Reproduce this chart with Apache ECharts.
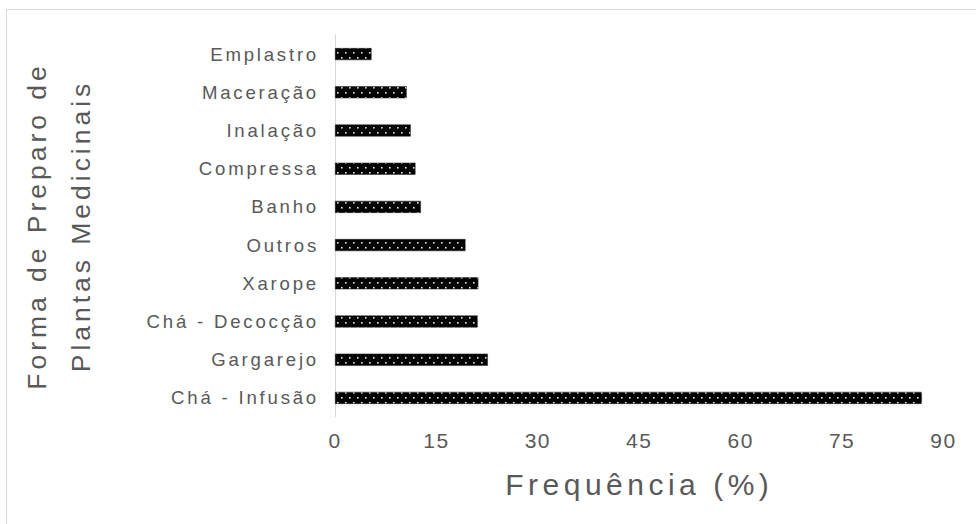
<!DOCTYPE html>
<html>
<head>
<meta charset="utf-8">
<script src="https://cdn.jsdelivr.net/npm/echarts@6/dist/echarts.min.js"></script>
<style>
  html, body { margin: 0; padding: 0; background: #fff; }
  #chart { width: 976px; height: 524px; }
  /* wide, airy lettering for all chart text; tick numbers a little tighter */
  #chart svg text { letter-spacing: 0.15em; }
  #chart svg text[style*="Arial"] { letter-spacing: 0.07em; }
</style>
</head>
<body>
<div id="chart"></div>
<script>
// Preparation methods, listed bottom to top as drawn on the category axis
const categories = [
  'Chá - Infusão', 'Gargarejo', 'Chá - Decocção', 'Xarope', 'Outros',
  'Banho', 'Compressa', 'Inalação', 'Maceração', 'Emplastro'
];
// Frequency (%) for each method
const frequencies = [86.8, 22.6, 21.1, 21.2, 19.3, 12.7, 11.9, 11.2, 10.6, 5.4];
// Value axis ticks
const xTicks = [0, 15, 30, 45, 60, 75, 90];

// Dotted fill: black with a staggered grid of small white dots
function dotPattern() {
  const c = document.createElement('canvas');
  c.width = 8; c.height = 10;
  const g = c.getContext('2d');
  g.fillStyle = '#000';
  g.fillRect(0, 0, 8, 10);
  g.fillStyle = '#e8e8e8';
  g.fillRect(1, 2, 1.6, 1.6);
  g.fillRect(5, 7, 1.6, 1.6);
  return c;
}

const chart = echarts.init(document.getElementById('chart'), null, { renderer: 'svg' });
const font = 'Liberation Sans, sans-serif';
const tickFont = 'Arial, Liberation Sans, sans-serif';

chart.setOption({
  animation: false,
  backgroundColor: '#fff',
  grid: { left: 335, right: 32.5, top: 35, bottom: 107, containLabel: false },
  graphic: [{
    type: 'polyline',
    shape: { points: [[6.5, 524], [6.5, 9.5], [976, 9.5]] },
    style: { stroke: '#d9d9d9', lineWidth: 1, fill: null },
    silent: true
  }],
  xAxis: {
    type: 'value',
    min: xTicks[0],
    max: xTicks[xTicks.length - 1],
    interval: xTicks[1] - xTicks[0],
    axisLine: { show: false },
    axisTick: { show: false },
    splitLine: { show: false },
    axisLabel: { color: '#595959', fontSize: 21, fontFamily: tickFont, margin: 13 },
    name: 'Frequência (%)',
    nameLocation: 'middle',
    nameGap: 52,
    nameTextStyle: { color: '#595959', fontSize: 30, fontFamily: font }
  },
  yAxis: {
    type: 'category',
    data: categories,
    axisLine: { show: true, lineStyle: { color: '#d9d9d9', width: 1 } },
    axisTick: { show: false },
    axisLabel: { color: '#595959', fontSize: 18.6, fontFamily: font, margin: 16 },
    name: 'Forma de Preparo de\nPlantas Medicinais',
    nameLocation: 'middle',
    nameRotate: 90,
    nameGap: 232,
    nameTextStyle: { color: '#595959', fontSize: 26.5, fontFamily: font, lineHeight: 44, align: 'center' }
  },
  series: [{
    type: 'bar',
    data: frequencies,
    barWidth: 12,
    itemStyle: {
      color: { image: dotPattern(), repeat: 'repeat' },
      borderColor: '#222',
      borderWidth: 0.5
    }
  }]
});
</script>
</body>
</html>
